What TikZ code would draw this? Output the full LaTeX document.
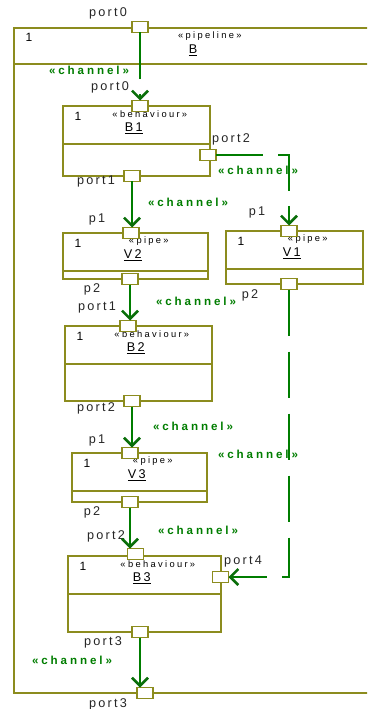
\documentclass[tikz,border=0pt]{standalone}
\usepackage{fontspec}
\setmainfont{Liberation Sans}[LetterSpace=18]
\usepackage{tikz}
\usetikzlibrary{arrows.meta}

\definecolor{partline}{RGB}{140,140,30}
\definecolor{chan}{RGB}{0,125,0}
\definecolor{chantip}{RGB}{10,110,10}

\begin{document}
\begin{tikzpicture}[x=0.75pt,y=-0.75pt,
  partbox/.style 2 args={draw=partline,line width=1pt,inner sep=0pt,outer sep=0pt,
    minimum width=#1,minimum height=#2},
  port/.style={draw=partline,fill=white,line width=.8pt,inner sep=0pt,outer sep=0pt,
    minimum width=12pt,minimum height=8.25pt},
  lbl/.style={font=\fontsize{9.5}{11}\selectfont,text=black!85,inner sep=0pt},
  mult/.style={font=\fontsize{9}{10}\selectfont,inner sep=0pt},
  stereo/.style={font=\fontsize{7}{8}\selectfont\addfontfeatures{LetterSpace=25},inner sep=0pt},
  pname/.style={font=\fontsize{9.5}{11}\selectfont,inner sep=0pt},
  chlabel/.style={font=\fontsize{8.7}{10}\selectfont\bfseries\addfontfeatures{LetterSpace=25},
    text=chan,inner sep=0pt},
  channel/.style={draw=chan,line width=.95pt,dash pattern=on 34.9pt off 11.6pt,
    -{Straight Barb[length=6pt,width=12pt,line width=1.9pt,color=chantip]}}]
  \useasboundingbox (0,0) rectangle (367,709);
  \clip (0,0) rectangle (367,709);

  % enclosing pipeline
  \node[partbox={273.75pt}{498.75pt}] (bpipe) at (196.5,360.5) {};
  \draw[partline,line width=1pt] ([yshift=-27pt]bpipe.north west) -- ([yshift=-27pt]bpipe.north east);
  \node[mult] (bpipe-m) at ([xshift=11.25pt,yshift=-6.75pt]bpipe.north west) {1};
  \node[stereo] (bpipe-s) at ([xshift=10pt,yshift=-6pt]bpipe.north) {«pipeline»};
  \node[pname] (bpipe-n) at ([xshift=-2.6pt,yshift=-16.5pt]bpipe.north) {\underline{B}};

  % parts
  \node[partbox={110.25pt}{52.5pt}] (b1) at (136.5,141) {};
  \node[partbox={108.75pt}{34.5pt}] (v2) at (135.5,256) {};
  \node[partbox={102.75pt}{39.75pt}] (v1) at (294.5,257.5) {};
  \node[partbox={110.25pt}{56.25pt}] (b2) at (138.5,363.5) {};
  \node[partbox={101.25pt}{36.75pt}] (v3) at (139.5,477.5) {};
  \node[partbox={114.75pt}{57pt}] (b3) at (144.5,594) {};

  \foreach \n/\s/\t in {b1/behaviour/B1,v2/pipe/V2,v1/pipe/V1,b2/behaviour/B2,v3/pipe/V3,b3/behaviour/B3}{
    \draw[partline,line width=1pt] ([yshift=-28.5pt]\n.north west) -- ([yshift=-28.5pt]\n.north east);
    \node[mult] (\n-m) at ([xshift=11.25pt,yshift=-7.5pt]\n.north west) {1};
    \node[stereo] (\n-s) at ([xshift=10pt,yshift=-6pt]\n.north) {«\s»};
    \node[pname] (\n-n) at ([xshift=-2pt,yshift=-16.5pt]\n.north) {\underline{\t}};
  }

  % ports
  \node[port] (op0) at (140,27) {};
  \node[port] (b1p0) at (140,106) {};
  \node[port] (b1p2) at (208,155) {};
  \node[port] (b1p1) at (132,176) {};
  \node[port] (v2p1) at (131,233) {};
  \node[port] (v2p2) at (130,279) {};
  \node[port] (v1p1) at (289,231) {};
  \node[port] (v1p2) at (289,284) {};
  \node[port] (b2p1) at (128,326) {};
  \node[port] (b2p2) at (132,401) {};
  \node[port] (v3p1) at (130,453) {};
  \node[port] (v3p2) at (130,502) {};
  \node[port] (b3p2) at (135.5,554) {};
  \node[port] (b3p4) at (220.5,577) {};
  \node[port] (b3p3) at (140,632) {};
  \node[port] (op3) at (145,693) {};

  \node[lbl] (op0-l) at (108,13) {port0};
  \node[lbl] (b1p0-l) at (110,87) {port0};
  \node[lbl] (b1p2-l) at (231,139) {port2};
  \node[lbl] (b1p1-l) at (96,181) {port1};
  \node[lbl] (v2p1-l) at (97,219) {p1};
  \node[lbl] (v1p1-l) at (257,212) {p1};
  \node[lbl] (v2p2-l) at (92,289) {p2};
  \node[lbl] (v1p2-l) at (250,295) {p2};
  \node[lbl] (b2p1-l) at (97,307) {port1};
  \node[lbl] (b2p2-l) at (96,408) {port2};
  \node[lbl] (v3p1-l) at (97,440) {p1};
  \node[lbl] (v3p2-l) at (92,512) {p2};
  \node[lbl] (b3p2-l) at (106,536) {port2};
  \node[lbl] (b3p4-l) at (243,561) {port4};
  \node[lbl] (b3p3-l) at (103,642) {port3};
  \node[lbl] (op3-l) at (108,704) {port3};

  % channels
  \draw[channel] (op0.south) -- (b1p0.north);
  \draw[channel] (b1p1.south) -- (b1p1.south |- v2p1.north);
  \draw[channel] (b1p2.east) -| (v1p1.north);
  \draw[channel] (v2p2.south) -- (v2p2.south |- b2p1.north);
  \draw[channel] (b2p2.south) -- (b2p2.south |- v3p1.north);
  \draw[channel] (v1p2.south) |- (b3p4.east);
  \draw[channel] (v3p2.south) -- (v3p2.south |- b3p2.north);
  \draw[channel] (b3p3.south) -- (b3p3.south |- op3.north);

  \node[chlabel] (ch1) at (89,70) {«channel»};
  \node[chlabel] (ch2) at (258,170) {«channel»};
  \node[chlabel] (ch3) at (188,202) {«channel»};
  \node[chlabel] (ch4) at (196,301) {«channel»};
  \node[chlabel] (ch5) at (193,426) {«channel»};
  \node[chlabel] (ch6) at (258,454) {«channel»};
  \node[chlabel] (ch7) at (198,530) {«channel»};
  \node[chlabel] (ch8) at (72,660) {«channel»};
\end{tikzpicture}
\end{document}
